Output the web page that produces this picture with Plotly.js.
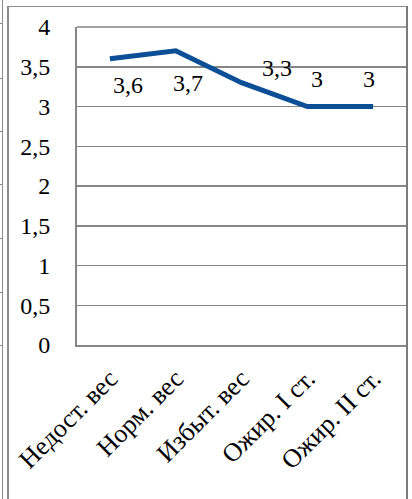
<!DOCTYPE html>
<html>
<head>
<meta charset="utf-8">
<script src="https://cdn.plot.ly/plotly-3.0.1.min.js"></script>
<style>
  html, body { margin: 0; padding: 0; background: #fff; }
  #wrap { position: relative; width: 412px; height: 499px; overflow: hidden; }
  #chart { position: absolute; left: 0; top: 0; width: 412px; height: 499px; }
  .fl { position: absolute; background: #8c8c8c; }
</style>
</head>
<body>
<div id="wrap">
  <div id="chart"></div>
  <div class="fl" style="left:2px;top:0;width:1px;height:499px;"></div>
  <div class="fl" style="left:7px;top:6px;width:2px;height:493px;"></div>
  <div class="fl" style="left:7px;top:6px;width:401px;height:1px;"></div>
  <div class="fl" style="left:406px;top:6px;width:2px;height:493px;background:#7a7a7a;"></div>
  <div class="fl" style="left:0;top:23px;width:2px;height:1px;"></div>
  <div class="fl" style="left:0;top:78px;width:2px;height:1px;"></div>
  <div class="fl" style="left:0;top:131px;width:2px;height:1px;"></div>
  <div class="fl" style="left:0;top:184px;width:2px;height:1px;"></div>
  <div class="fl" style="left:0;top:238px;width:2px;height:1px;"></div>
  <div class="fl" style="left:0;top:292px;width:2px;height:1px;"></div>
  <div class="fl" style="left:0;top:345px;width:2px;height:1px;"></div>
</div>
<script>
const categories = ["Недост. вес", "Норм. вес", "Избыт. вес", "Ожир. I ст.", "Ожир. II ст."];
const values = [3.6, 3.7, 3.3, 3, 3];
const valueLabels = ["3,6", "3,7", "3,3", "3", "3"];
const yTickVals = [0, 0.5, 1, 1.5, 2, 2.5, 3, 3.5, 4];
const yTickText = ["0", "0,5", "1", "1,5", "2", "2,5", "3", "3,5", "4"];

// label offsets (style only, pixels)
const labelXShift = [18, 12, 35, 10, -4];
const labelYShift = [-26, -32, 15, 28, 28];

const font = "Times New Roman";

const trace = {
  type: "scatter",
  mode: "lines",
  x: categories,
  y: values,
  line: { color: "#0d4f96", width: 5, shape: "linear" },
  hoverinfo: "skip"
};

const annotations = categories.map((c, i) => ({
  x: c, y: values[i], xref: "x", yref: "y",
  text: valueLabels[i], showarrow: false,
  xshift: labelXShift[i], yshift: labelYShift[i],
  font: { family: font, size: 24, color: "#000" }
}));

const layout = {
  width: 412, height: 499,
  margin: { l: 77, r: 6, t: 27, b: 154 },
  paper_bgcolor: "rgba(0,0,0,0)",
  plot_bgcolor: "#fff",
  showlegend: false,
  font: { family: font, color: "#000" },
  xaxis: {
    type: "category",
    range: [-0.5, categories.length - 0.5],
    showgrid: false,
    showline: true, linecolor: "#868686", linewidth: 2,
    ticks: "", tickangle: -45,
    tickfont: { family: font, size: 26, color: "#000" },
    ticklabelstandoff: 6,
    zeroline: false, fixedrange: true
  },
  yaxis: {
    range: [0, 4],
    tickvals: yTickVals, ticktext: yTickText,
    showgrid: true, gridcolor: "#868686", gridwidth: 1.5,
    showline: true, linecolor: "#868686", linewidth: 2,
    mirror: false,
    ticks: "", ticklabelstandoff: 20,
    tickfont: { family: font, size: 24, color: "#000" },
    zeroline: false, fixedrange: true
  },
  shapes: [
    { type: "line", xref: "paper", yref: "paper", x0: 0, x1: 1, y0: 1, y1: 1,
      line: { color: "#868686", width: 1.5 } }
  ],
  annotations: annotations
};

Plotly.newPlot("chart", [trace], layout, { displayModeBar: false, staticPlot: true });
</script>
</body>
</html>
